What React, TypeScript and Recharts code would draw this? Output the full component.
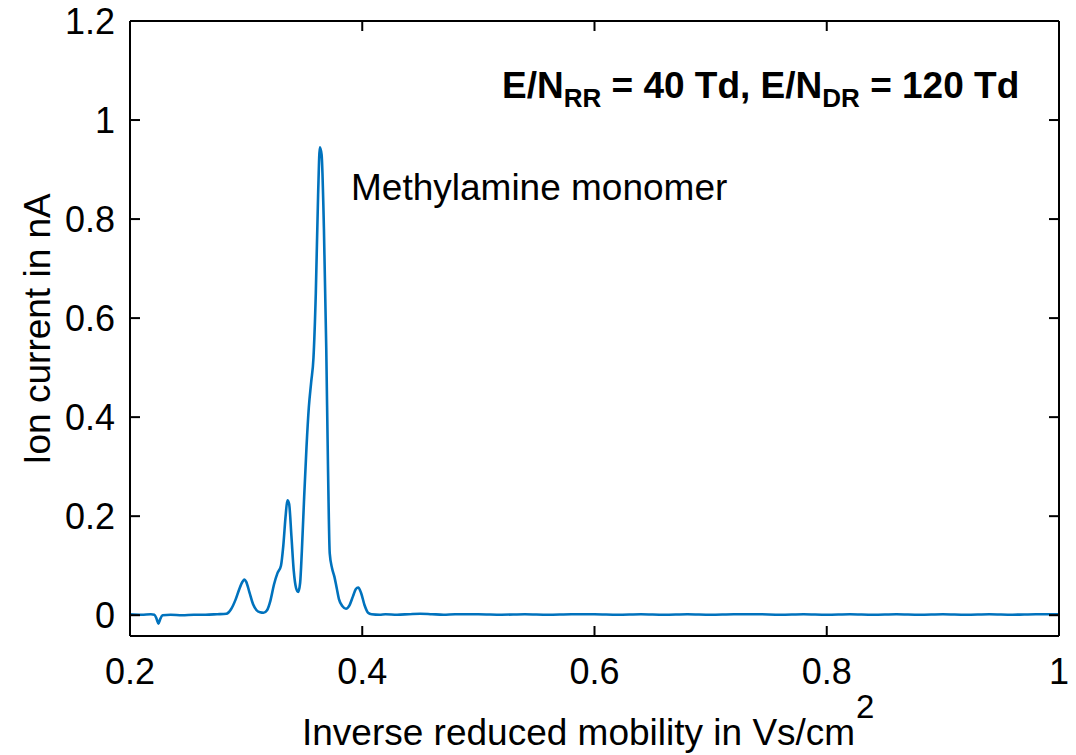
import React from "react";
import { LineChart, Line, XAxis, YAxis } from "recharts";

document.body.style.margin = "0";

// ion mobility spectrum, inverse reduced mobility (Vs/cm^2) vs ion current (nA)
const mobility = [
  0.2, 0.21, 0.218, 0.221, 0.223, 0.2245, 0.226, 0.228, 0.235, 0.245, 0.255,
  0.265, 0.275, 0.283, 0.287, 0.291, 0.294, 0.297, 0.2985, 0.3, 0.303, 0.306,
  0.309, 0.312, 0.315, 0.318, 0.321, 0.324, 0.327, 0.33, 0.332, 0.334, 0.3355,
  0.337, 0.339, 0.341, 0.343, 0.3448, 0.3465, 0.348, 0.35, 0.352, 0.354, 0.356,
  0.358, 0.36, 0.362, 0.3635, 0.365, 0.367, 0.369, 0.3705, 0.372, 0.374, 0.376,
  0.378, 0.38, 0.383, 0.386, 0.389, 0.392, 0.3945, 0.3965, 0.399, 0.402, 0.405,
  0.408, 0.415, 0.42, 0.43, 0.44, 0.45, 0.46, 0.47, 0.48, 0.5, 0.52, 0.54, 0.56,
  0.58, 0.6, 0.62, 0.64, 0.66, 0.68, 0.7, 0.72, 0.74, 0.76, 0.78, 0.8, 0.82,
  0.84, 0.86, 0.88, 0.9, 0.92, 0.94, 0.96, 0.98, 1.0,
];
const current = [
  0.002, 0.001, 0.002, 0.001, -0.008, -0.017, -0.008, 0.0, 0.001, 0.0, 0.001,
  0.001, 0.002, 0.003, 0.012, 0.032, 0.052, 0.068, 0.072, 0.068, 0.045, 0.022,
  0.01, 0.006, 0.005, 0.01, 0.03, 0.062, 0.085, 0.1, 0.14, 0.2, 0.232,
  0.225, 0.16, 0.09, 0.055, 0.047, 0.065, 0.13, 0.24, 0.34, 0.42, 0.47,
  0.52, 0.65, 0.85, 0.945, 0.93, 0.78, 0.54, 0.3, 0.125, 0.095, 0.078,
  0.055, 0.032, 0.018, 0.013, 0.02, 0.038, 0.053, 0.056, 0.045, 0.02, 0.005,
  0.002, 0.001, 0.002, 0.001, 0.002, 0.003, 0.002, 0.001, 0.002, 0.002, 0.001,
  0.002, 0.001, 0.002, 0.002, 0.001, 0.002, 0.001, 0.002, 0.001, 0.002, 0.002,
  0.001, 0.002, 0.001, 0.002, 0.001, 0.002, 0.001, 0.002, 0.001, 0.002, 0.001,
  0.002, 0.002,
];

const xTicks = [0.2, 0.4, 0.6, 0.8, 1];
const yTicks = [0, 0.2, 0.4, 0.6, 0.8, 1, 1.2];

const rows = mobility.map((x, i) => ({ x, y: current[i] }));

const FONT = "'Liberation Sans', Arial, sans-serif";
const tickStyle = { fill: "#000", fontSize: 36, fontFamily: FONT };
const blank = () => "";

export default function App() {
  return (
    <div style={{ position: "relative", width: 1076, height: 755, background: "#fff" }}>
      <LineChart
        width={1076}
        height={755}
        data={rows}
        margin={{ top: 20, right: 16, bottom: 59, left: 30 }}
      >
        <XAxis
          dataKey="x"
          type="number"
          domain={[0.2, 1]}
          ticks={xTicks}
          allowDataOverflow
          height={60}
          tickSize={-10}
          tickMargin={32}
          tick={tickStyle}
          tickFormatter={(v) => String(v)}
          axisLine={{ stroke: "#000", strokeWidth: 2 }}
          tickLine={{ stroke: "#000", strokeWidth: 2 }}
        />
        <XAxis
          xAxisId="top"
          orientation="top"
          dataKey="x"
          type="number"
          domain={[0.2, 1]}
          ticks={xTicks}
          allowDataOverflow
          height={1}
          tickSize={-10}
          tickFormatter={blank}
          axisLine={{ stroke: "#000", strokeWidth: 2 }}
          tickLine={{ stroke: "#000", strokeWidth: 2 }}
        />
        <YAxis
          type="number"
          domain={[-0.042, 1.2]}
          ticks={yTicks}
          allowDataOverflow
          width={100}
          tickSize={-10}
          tickMargin={25}
          tick={tickStyle}
          tickFormatter={(v) => String(v)}
          axisLine={{ stroke: "#000", strokeWidth: 2 }}
          tickLine={{ stroke: "#000", strokeWidth: 2 }}
        />
        <YAxis
          yAxisId="right"
          orientation="right"
          type="number"
          domain={[-0.042, 1.2]}
          ticks={yTicks}
          allowDataOverflow
          width={1}
          tickSize={-10}
          tickFormatter={blank}
          axisLine={{ stroke: "#000", strokeWidth: 2 }}
          tickLine={{ stroke: "#000", strokeWidth: 2 }}
        />
        <Line
          type="monotone"
          dataKey="y"
          stroke="#0072BD"
          strokeWidth={2.6}
          dot={false}
          isAnimationActive={false}
        />
      </LineChart>

      <svg
        width={1076}
        height={755}
        style={{ position: "absolute", left: 0, top: 0, pointerEvents: "none" }}
        fontFamily={FONT}
      >
        <text x={502} y={98} fontSize={37} fontWeight="bold" fill="#000">
          E/N
          <tspan fontSize={26} dy={9}>RR</tspan>
          <tspan dy={-9}> = 40 Td, E/N</tspan>
          <tspan fontSize={26} dy={9}>DR</tspan>
          <tspan dy={-9}> = 120 Td</tspan>
        </text>
        <text x={351} y={200} fontSize={37} fill="#000">
          Methylamine monomer
        </text>
        <text x={302} y={745} fontSize={37} fill="#000">
          Inverse reduced mobility in Vs/cm
        </text>
        <text x={856} y={718} fontSize={33} fill="#000">
          2
        </text>
        <text
          x={0}
          y={0}
          fontSize={37}
          fill="#000"
          textAnchor="middle"
          transform="translate(50 329) rotate(-90)"
        >
          Ion current in nA
        </text>
      </svg>
    </div>
  );
}
